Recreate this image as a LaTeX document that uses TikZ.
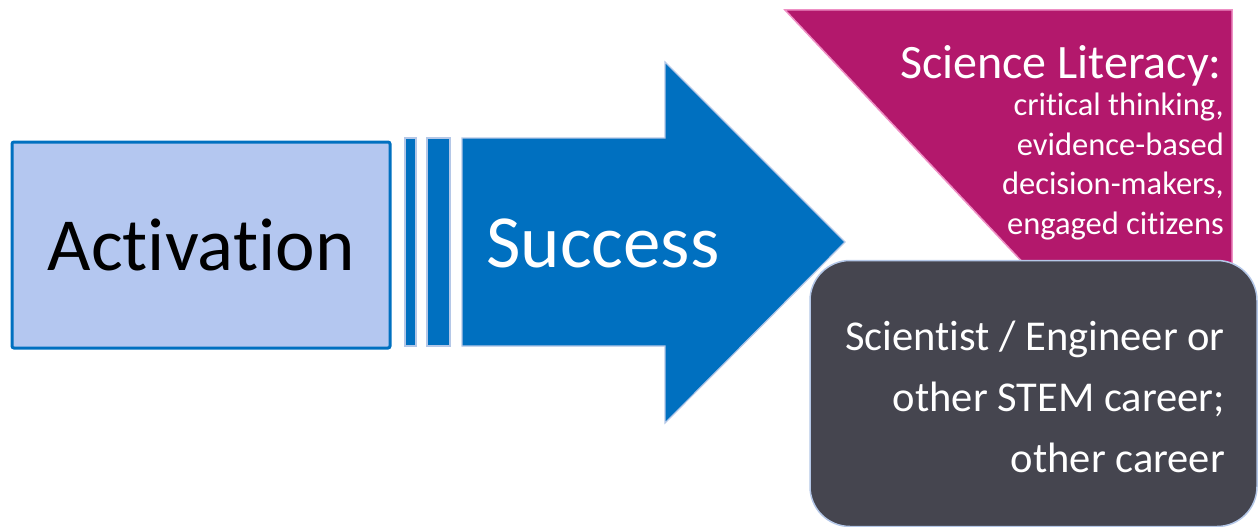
\documentclass[tikz,border=0pt]{standalone}
\usepackage{fontspec}
\setmainfont{Carlito}[Ligatures=NoCommon]
\usepackage{xcolor}
\usetikzlibrary{positioning}

\definecolor{actfill}{HTML}{B4C7F0}
\definecolor{sucblue}{HTML}{0070C0}
\definecolor{edgeblue}{HTML}{B4C7E7}
\definecolor{litpink}{HTML}{B3186C}
\definecolor{litedge}{HTML}{EE8FC4}
\definecolor{careergray}{HTML}{45454F}

\begin{document}
\begin{tikzpicture}
[x=1pt,y=-1pt,
      actbox/.style={draw=sucblue,fill=actfill,line width=3pt,rounded corners=2pt,
      minimum width=378pt,minimum height=206pt,inner sep=0pt,
      font=\fontsize{75}{80}\selectfont},
      bar/.style={draw=edgeblue,fill=sucblue,line width=1.2pt},
      careerbox/.style={draw=edgeblue,fill=careergray,line width=1.5pt,rounded corners=40pt,
      minimum width=447pt,minimum height=266pt,inner sep=0pt},
      whitetext/.style={text=white,inner sep=0pt}]
 \useasboundingbox (0,0) rectangle (1258,527);
 % literacy banner
 \path[fill=litpink,draw=litedge,line width=1.5pt]
  (785,10) -- (1232,10) -- (1232,268) -- (1028,268) -- cycle;
 \node[whitetext,anchor=base east,font=\fontsize{48}{52}\selectfont] (lit) at (1222,78)
  {Science Literacy:};
 % base of a multi-line node is its last line
 \node[whitetext,anchor=base east,align=right,font=\fontsize{32.5}{39.5}\selectfont] (litsub)
  at (1224,234) {critical thinking,\\evidence-based\\decision-makers,\\engaged citizens};
 % activation box
 \node[actbox] (act) at (201,245) {Activation};
 % bars and arrow
 \path[bar] (405,138) rectangle (416,346);
 \path[bar] (427,138) rectangle (450,346);
 \path[bar] (462,138) -- (665,138) -- (665,62) -- (845,242) -- (665,423)
  -- (665,346) -- (462,346) -- cycle;
 \node[whitetext,font=\fontsize{75}{80}\selectfont] (suc) at (603,243) {Success};
 % career box
 \node[careerbox] (career) at (1033.5,393.5) {};
 \node[whitetext,anchor=base east,align=right,font=\fontsize{42.5}{61}\selectfont] (cartext)
  at (1225,472) {Scientist / Engineer or\\other STEM career;\\other career};
\end{tikzpicture}
\end{document}
